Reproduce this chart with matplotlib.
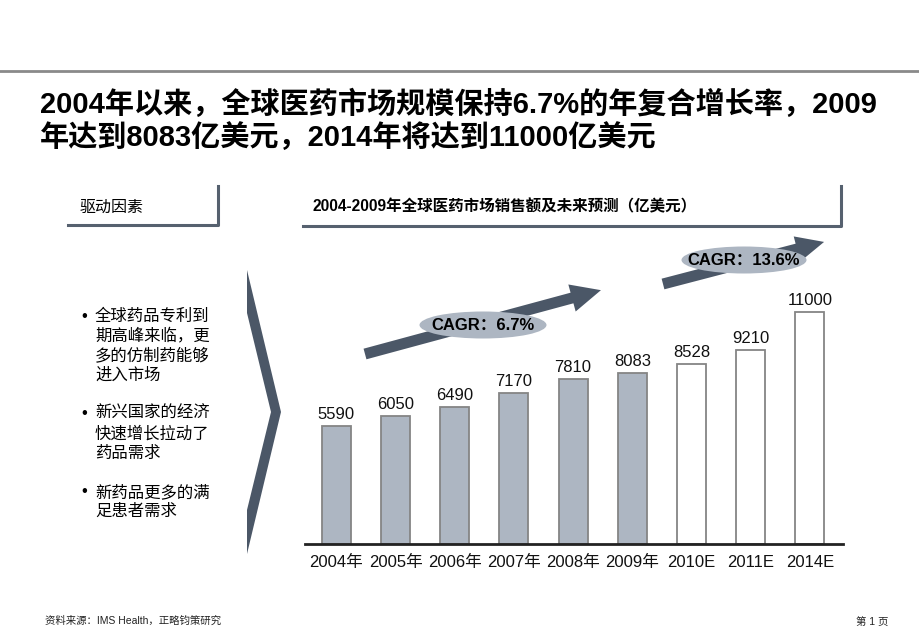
import matplotlib
matplotlib.use('Agg')
import matplotlib.pyplot as plt
from matplotlib.patches import Polygon, Ellipse, FancyArrow

plt.rcParams['font.family'] = ['Liberation Sans', 'Noto Sans CJK SC']

# data
years = ['2004年', '2005年', '2006年', '2007年', '2008年', '2009年', '2010E', '2011E', '2014E']
sales = [5590, 6050, 6490, 7170, 7810, 8083, 8528, 9210, 11000]
is_forecast = [False] * 6 + [True] * 3

title_1 = '2004年以来，全球医药市场规模保持6.7%的年复合增长率，2009'
title_2 = '年达到8083亿美元，2014年将达到11000亿美元'
left_head = '驱动因素'
right_head = '2004-2009年全球医药市场销售额及未来预测（亿美元）'
bullets = [['全球药品专利到', '期高峰来临，更', '多的仿制药能够', '进入市场'],
           ['新兴国家的经济', '快速增长拉动了', '药品需求'],
           ['新药品更多的满', '足患者需求']]
cagr_1 = 'CAGR：6.7%'
cagr_2 = 'CAGR：13.6%'
source = '资料来源：IMS Health，正略钧策研究'
page = '第 1 页'

slate = '#4b5767'
bar_fill = '#adb6c2'

W, H = 920, 637
fig = plt.figure(figsize=(W / 100, H / 100), dpi=100)

# bar chart axes
ax = fig.add_axes([305 / W, (H - 544) / H, 538 / W, 254 / H])
cols = ['white' if f else bar_fill for f in is_forecast]
bars = ax.bar(range(len(sales)), sales, width=0.49, color=cols,
              edgecolor='#858585', linewidth=1.3, zorder=2)
ax.bar_label(bars, labels=[str(v) for v in sales], padding=3, fontsize=12, color='#111111')
ax.set_xlim(-0.53, 8.56)
ax.set_ylim(0, 12040)
ax.set_xticks(range(len(years)))
ax.set_xticklabels(years, fontsize=12, color='#111111')
ax.tick_params(axis='x', length=0, pad=8)
ax.set_yticks([])
for s in ['top', 'right', 'left']:
    ax.spines[s].set_visible(False)
ax.spines['bottom'].set_color('#222222')
ax.spines['bottom'].set_linewidth(2)
ax.patch.set_alpha(0)

# overlay in pixel coordinates
ov = fig.add_axes([0, 0, 1, 1])
ov.set_xlim(0, W)
ov.set_ylim(H, 0)
ov.axis('off')

ov.plot([0, W], [71, 71], color='#8a8a8a', lw=2)

ov.text(40, 104, title_1, fontsize=21, fontweight='bold', va='center', ha='left')
ov.text(40, 138, title_2, fontsize=21, fontweight='bold', va='center', ha='left')

# headers
ov.plot([68, 218, 218], [225, 225, 186], color='#56616f', lw=2.2)
ov.plot([303, 841, 841], [226, 226, 186], color='#56616f', lw=2.2)
ov.text(80, 207, left_head, fontsize=11.5, va='center', ha='left')
ov.text(313, 207, right_head, fontsize=11.2, fontweight='bold', va='center', ha='left')

# chevron
ov.add_patch(Polygon([(247, 270), (281, 412), (247, 554), (247, 510), (271, 412), (247, 313)],
                     closed=True, color=slate, lw=0))

# bullets
y = 316
for group in bullets:
    for i, line in enumerate(group):
        if i == 0:
            ov.text(84, y, '•', fontsize=12, va='center', ha='center')
        ov.text(95, y, line, fontsize=11.8, va='center', ha='left')
        y += 19.7
    y += 19

# growth arrows
ov.add_patch(FancyArrow(365, 354, 235 - 28, -64 + 8, width=11, head_width=28, head_length=30,
                        length_includes_head=False, color=slate, lw=0))
ov.add_patch(FancyArrow(663, 284, 162 - 28, -43 + 8, width=11, head_width=26, head_length=28,
                        length_includes_head=False, color=slate, lw=0))
ov.add_patch(Ellipse((483, 325), 127, 27, color=bar_fill, lw=0))
ov.add_patch(Ellipse((744, 260), 125, 27, color=bar_fill, lw=0))
ov.text(483, 325, cagr_1, fontsize=12, fontweight='bold', va='center', ha='center')
ov.text(744, 260, cagr_2, fontsize=12, fontweight='bold', va='center', ha='center')

# footer
ov.text(45, 621, source, fontsize=7.5, va='center', ha='left', color='#222222')
ov.text(888, 622, page, fontsize=7.5, va='center', ha='right', color='#222222')

fig.savefig('out.png', dpi=100)
